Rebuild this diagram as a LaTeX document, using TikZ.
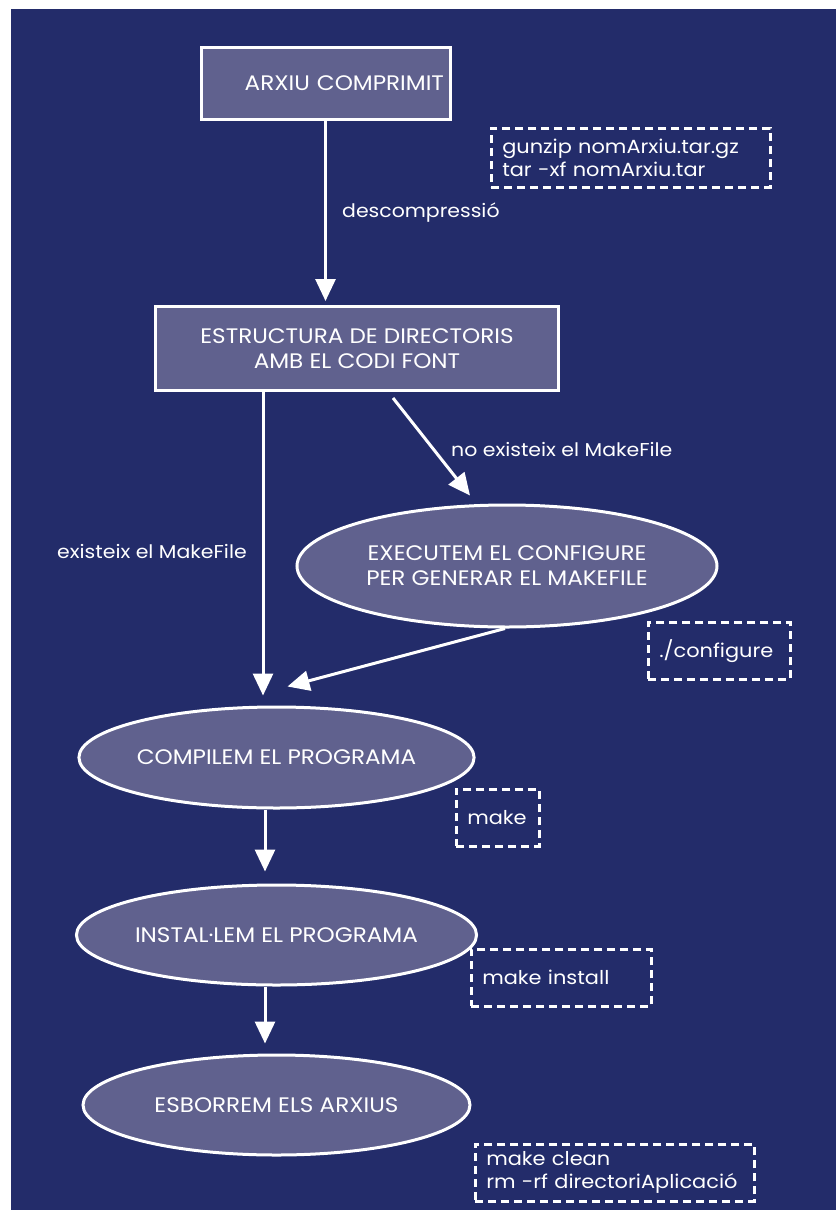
\documentclass[tikz,border=0pt]{standalone}
\usepackage{fontspec}
\setmainfont{Poppins}[FakeStretch=1.1]
\usetikzlibrary{arrows.meta,shapes.geometric,calc}
\definecolor{navy}{RGB}{35,44,106}
\definecolor{slate}{RGB}{96,97,142}

\begin{document}
\begin{tikzpicture}[x=1pt,y=-1pt,
  every node/.style={text=white},
  stage/.style={draw=white, line width=3pt, fill=slate, inner sep=0pt,
    align=center, font=\fontsize{21}{25}\selectfont},
  oval/.style={stage, ellipse},
  cmd/.style={draw=white, line width=2.5pt, dash pattern=on 8pt off 5pt,
    anchor=north west, inner xsep=11pt, inner ysep=0pt, align=left,
    font=\fontsize{19}{23}\selectfont},
  lbl/.style={anchor=west, inner sep=0pt, font=\fontsize{18.6}{23}\selectfont},
  flow/.style={draw=white, line width=3pt, -{Triangle[width=20pt,length=22pt]}}
]
% page and panel
\useasboundingbox (0,0) rectangle (836,1210);
\fill[navy] (11,9) rectangle (836,1210);

% stages
\node[stage, minimum width=249pt, minimum height=72pt, text width=237pt, align=right]
  (arxiu) at (325.5,83) {ARXIU COMPRIMIT};
\node[stage, minimum width=403pt, minimum height=84pt] (estructura) at (357,348.5)
  {ESTRUCTURA DE DIRECTORIS\\AMB EL CODI FONT};
\node[oval, minimum width=420pt, minimum height=122pt] (configure) at (507,566)
  {EXECUTEM EL CONFIGURE\\PER GENERAR EL MAKEFILE};
\node[oval, minimum width=387pt, minimum height=101pt] (compilem) at (276.5,757.5) {COMPILEM EL PROGRAMA};
\node[oval, minimum width=387pt, minimum height=100pt] (installem) at (276.5,935) {INSTAL·LEM EL PROGRAMA};
\node[oval, minimum width=387pt, minimum height=100pt] (esborrem) at (276.5,1105) {ESBORREM ELS ARXIUS};

% commands
\node[cmd, text width=257pt, minimum height=59pt] (cmdgz) at (490,127)
  {gunzip nomArxiu.tar.gz\\tar -xf nomArxiu.tar};
\node[cmd, text width=120pt, minimum height=57pt] (cmdconf) at (647,621) {./configure};
\node[cmd, text width=61pt, minimum height=57pt] (cmdmake) at (455,788) {make};
\node[cmd, text width=158pt, minimum height=57pt] (cmdinst) at (470,948) {make install};
\node[cmd, text width=257pt, minimum height=57pt] (cmdclean) at (474,1143)
  {make clean\\rm -rf directoriAplicació};

% connectors
\draw[flow, shorten >=4pt] (arxiu.south) -- (arxiu.south |- estructura.north);
\draw[flow, shorten >=10pt] (263,0 |- estructura.south) -- (263,0 |- compilem.north);
\draw[flow] ($(estructura.south)+(36,6)$) -- ($(configure.north)+(-37,-8)$);
\draw[flow] ($(configure.south)+(-2,0)$) -- ($(compilem.north)+(11,-19)$);
\draw[flow, shorten >=12pt] (265,0 |- compilem.south) -- (265,0 |- installem.north);
\draw[flow, shorten >=10pt] (265,0 |- installem.south) -- (265,0 |- esborrem.north);

% connector labels
\node[lbl] (ldesc) at (342,213) {descompressió};
\node[lbl] (lno) at (451,449) {no existeix el MakeFile};
\node[lbl] (lsi) at (57,551) {existeix el MakeFile};
\end{tikzpicture}
\end{document}
